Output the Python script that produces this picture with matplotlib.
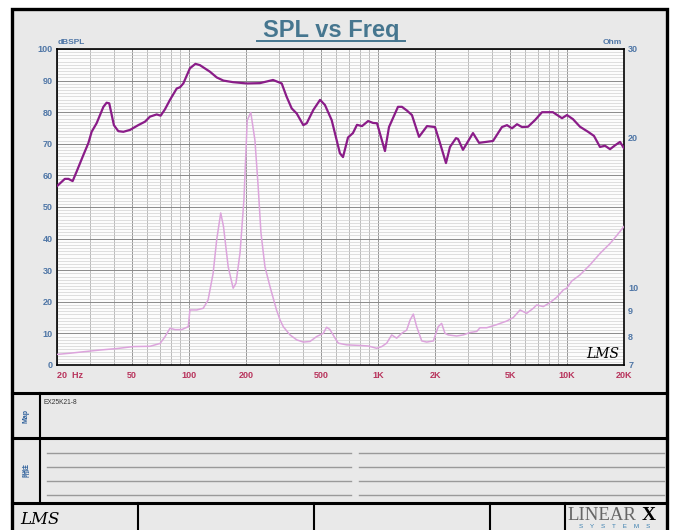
import matplotlib
matplotlib.use('Agg')
import matplotlib.pyplot as plt
from matplotlib.patches import Rectangle
from matplotlib.lines import Line2D
from matplotlib.ticker import NullLocator, FixedLocator

# SPL curve (Hz, dB)
spl_freq = [20, 22.0, 23.0, 24.2, 25.4, 27.6, 29.3, 30.5, 32.4, 35.2, 36.6, 37.8, 40, 42.2, 44.9,
            48.7, 53.8, 58.4, 62.1, 67.4, 70.7, 74.5, 79.2, 86, 89.5, 93.2, 101, 108, 114, 129,
            140, 152, 171, 202, 237, 278, 309, 328, 349, 371, 402, 419, 454, 493, 523, 568, 628,
            652, 693, 736, 773, 822, 885, 940, 987, 1087, 1142, 1274, 1337, 1422, 1510, 1646,
            1815, 2000, 2124, 2286, 2400, 2584, 2649, 2812, 3177, 3420, 3724, 4056, 4520, 4808,
            5110, 5432, 5770, 6210, 6762, 7366, 8414, 9398, 9982, 10740, 11700, 12905, 13870,
            14930, 15860, 16870, 17920, 19050, 20000]
spl_db = [56.6, 58.9, 58.9, 58.2, 61.2, 66.5, 70.2, 73.8, 76.5, 81.7, 83.0, 82.8, 75.9, 74.0, 73.8,
          74.4, 75.9, 77.0, 78.6, 79.3, 78.9, 80.9, 83.9, 87.5, 87.9, 89.1, 93.9, 95.3, 94.9, 92.8,
          91.0, 90.0, 89.5, 89.1, 89.2, 90.2, 89.1, 84.9, 81.2, 79.6, 75.9, 76.5, 80.7, 83.9, 82.3,
          77.5, 67.0, 65.8, 72.0, 73.4, 76.0, 75.6, 77.2, 76.6, 76.5, 67.7, 75.3, 81.7, 81.7, 80.5,
          79.1, 72.2, 75.6, 75.3, 70.3, 63.9, 69.0, 71.8, 71.5, 68.1, 73.4, 70.3, 70.6, 70.9, 75.3,
          75.9, 74.9, 76.2, 75.3, 75.4, 77.5, 80.0, 80.0, 78.1, 79.1, 77.8, 75.4, 73.8, 72.5,
          69.0, 69.4, 68.3, 69.5, 70.6, 68.6]

# impedance curve (Hz, Ohm)
imp_freq = [20, 23.4, 27.6, 33.8, 41.4, 50.7, 62.1, 70.2, 74.5, 79.2, 84.2, 91.4, 99, 101, 109.7,
            118.8, 126, 134, 140, 147, 152, 161, 171, 177, 186, 195, 203, 212, 223, 232, 240, 252,
            268, 290, 303, 315, 342, 371, 402, 436, 473, 513, 534, 556, 592, 616, 682, 802, 887,
            983, 1045, 1110, 1180, 1254, 1333, 1416, 1476, 1536, 1600, 1702, 1808, 1960, 2080,
            2168, 2258, 2350, 2606, 2822, 3064, 3326, 3460, 3756, 4242, 4790, 5190, 5636, 6110,
            6626, 6900, 7480, 8112, 8804, 9548, 9950, 10572, 11700, 13214, 14928, 16870, 18284,
            20000]
imp_ohm = [7.35, 7.39, 7.44, 7.50, 7.55, 7.62, 7.63, 7.73, 7.97, 8.29, 8.24, 8.24, 8.35, 9.02, 9.02,
           9.09, 9.44, 10.68, 12.48, 14.1, 13.25, 11.0, 9.97, 10.2, 11.74, 14.98, 21.6, 22.4, 19.7,
           15.9, 12.86, 11.0, 10.04, 9.02, 8.61, 8.35, 8.04, 7.86, 7.78, 7.8, 7.98, 8.10, 8.33, 8.24,
           7.92, 7.74, 7.68, 7.66, 7.64, 7.56, 7.62, 7.74, 8.04, 7.92, 8.10, 8.22, 8.61, 8.85, 8.35,
           7.82, 7.78, 7.82, 8.35, 8.48, 8.10, 8.04, 8.0, 8.04, 8.13, 8.17, 8.31, 8.31, 8.43, 8.57,
           8.71, 9.02, 8.88, 9.09, 9.23, 9.16, 9.33, 9.56, 9.89, 9.97, 10.3, 10.6, 11.1, 11.7, 12.25,
           12.7, 13.25]

x_ticks = [20, 50, 100, 200, 500, 1000, 2000, 5000, 10000, 20000]
x_labels = ['20  Hz', '50', '100', '200', '500', '1K', '2K', '5K', '10K', '20K']
db_ticks = [0, 10, 20, 30, 40, 50, 60, 70, 80, 90, 100]
ohm_ticks = [7, 8, 9, 10, 20, 30]

W, H = 674, 530
narrow = ['Liberation Sans Narrow', 'Liberation Sans', 'DejaVu Sans']
blue = '#4f76a6'
red = '#b8335c'

fig = plt.figure(figsize=(W / 100, H / 100), dpi=100)
fig.patch.set_facecolor('white')


def fx(x):
    return x / W


def fy(y):
    return 1 - y / H


def hline(x0, x1, y, color='black', lw=2.2):
    fig.add_artist(Line2D([fx(x0), fx(x1)], [fy(y), fy(y)], color=color, lw=lw,
                          transform=fig.transFigure))


def vline(x, y0, y1, color='black', lw=2.2):
    fig.add_artist(Line2D([fx(x), fx(x)], [fy(y0), fy(y1)], color=color, lw=lw,
                          transform=fig.transFigure))


# outer sheet
fig.add_artist(Rectangle((fx(12), fy(540)), fx(667) - fx(12), fy(9) - fy(540),
                         facecolor='#e9e9e9', edgecolor='black', lw=2.4,
                         transform=fig.transFigure, zorder=0))
hline(12, 667, 393)
hline(12, 667, 438)
hline(12, 667, 503)
vline(40, 393, 503, lw=1.5)
for xb in [138, 314, 490, 565]:
    vline(xb, 503, 530, lw=1.5)

# title with underline
fig.text(fx(331), fy(30), 'SPL vs Freq', ha='center', va='center', fontsize=17,
         fontweight='bold', color='#46768f', family=['Liberation Sans', 'DejaVu Sans'])
hline(257, 405, 41, color='#46768f', lw=1.4)

# main plot
ax = fig.add_axes([fx(57), fy(365), fx(624) - fx(57), fy(49) - fy(365)])
ax.set_facecolor('#fcfcfc')
ax.set_xscale('log')
ax.set_xlim(20, 20000)
ax.set_ylim(0, 100)

ax.set_yticks(db_ticks)
ax.set_yticks(range(0, 101), minor=True)
ax.yaxis.grid(True, which='minor', color='#d2d2d2', lw=0.5)
ax.yaxis.grid(True, which='major', color='#8a8a8a', lw=0.7)

minor_x = [m * 10 ** d for d in range(1, 5) for m in range(2, 10) if 20 <= m * 10 ** d <= 20000]
ax.xaxis.set_major_locator(FixedLocator(x_ticks))
ax.xaxis.set_minor_locator(FixedLocator(minor_x))
ax.set_xticklabels(x_labels)
ax.xaxis.grid(True, which='minor', color='#b0b0b0', lw=0.6)
ax.xaxis.grid(True, which='major', color='#969696', lw=0.7)
ax.set_axisbelow(True)

ax.tick_params(axis='both', which='both', length=0)
ax.tick_params(axis='y', pad=3, labelsize=6.5, labelcolor=blue)
ax.tick_params(axis='x', pad=4, labelsize=6.5, labelcolor=red)
for lab in ax.get_yticklabels():
    lab.set_family(narrow)
    lab.set_fontweight('bold')
for i, lab in enumerate(ax.get_xticklabels()):
    lab.set_family(narrow)
    lab.set_fontweight('bold')
    if i == 0:
        lab.set_ha('left')

for s in ax.spines.values():
    s.set_color('black')
    s.set_linewidth(1.2)

ax.plot(spl_freq, spl_db, color='#8a1c88', lw=1.6, zorder=3)

# impedance on log ohm axis
ax2 = ax.twinx()
ax2.set_yscale('log')
ax2.set_ylim(7, 30)
ax2.yaxis.set_major_locator(FixedLocator(ohm_ticks))
ax2.yaxis.set_minor_locator(NullLocator())
ax2.set_yticklabels([str(t) for t in ohm_ticks])
ax2.tick_params(axis='y', length=0, pad=3, labelsize=6.5, labelcolor=blue)
for lab in ax2.get_yticklabels():
    lab.set_family(narrow)
    lab.set_fontweight('bold')
for s in ax2.spines.values():
    s.set_visible(False)
ax2.plot(imp_freq, imp_ohm, color='#dca4dc', lw=1.1, zorder=2)

fig.text(fx(58), fy(43), 'dBSPL', ha='left', va='center', fontsize=6, color=blue,
         fontweight='bold', family=narrow)
fig.text(fx(622), fy(43), 'Ohm', ha='right', va='center', fontsize=6, color=blue,
         fontweight='bold', family=narrow)
fig.text(fx(603), fy(354), 'LMS', ha='center', va='center', fontsize=10,
         style='italic', family='DejaVu Serif', color='black')

# map / notes boxes
fig.text(fx(26), fy(416), 'Map', rotation=90, ha='center', va='center', fontsize=5,
         fontweight='bold', color='#2d5f9a', family=narrow)
fig.text(fx(43), fy(403), 'EX25K21-8', ha='left', va='center', fontsize=4.8,
         color='#333333', family=narrow)
fig.text(fx(26), fy(470), '附註', rotation=90, ha='center', va='center', fontsize=5,
         fontweight='bold', color='#2d5f9a', family=['Noto Sans CJK TC', 'DejaVu Sans'])
for yl in [453, 467, 481, 495]:
    hline(47, 351, yl, color='#9a9a9a', lw=1.0)
    hline(359, 664, yl, color='#9a9a9a', lw=1.0)

# footer logos
fig.text(fx(20), fy(519), 'LMS', ha='left', va='center', fontsize=12, style='italic',
         family='DejaVu Serif', color='black')
fig.text(fx(567), fy(515), 'LINEAR', ha='left', va='center', fontsize=13.5,
         family='Liberation Serif', color='#666666')
fig.text(fx(642), fy(515), 'X', ha='left', va='center', fontsize=14, fontweight='bold',
         family='Liberation Serif', color='black')
fig.text(fx(615), fy(527), 'S    Y    S    T    E    M    S', ha='center', va='center',
         fontsize=4.5, family=narrow, color='#3a7fb0')

fig.savefig('out.png', dpi=100)
